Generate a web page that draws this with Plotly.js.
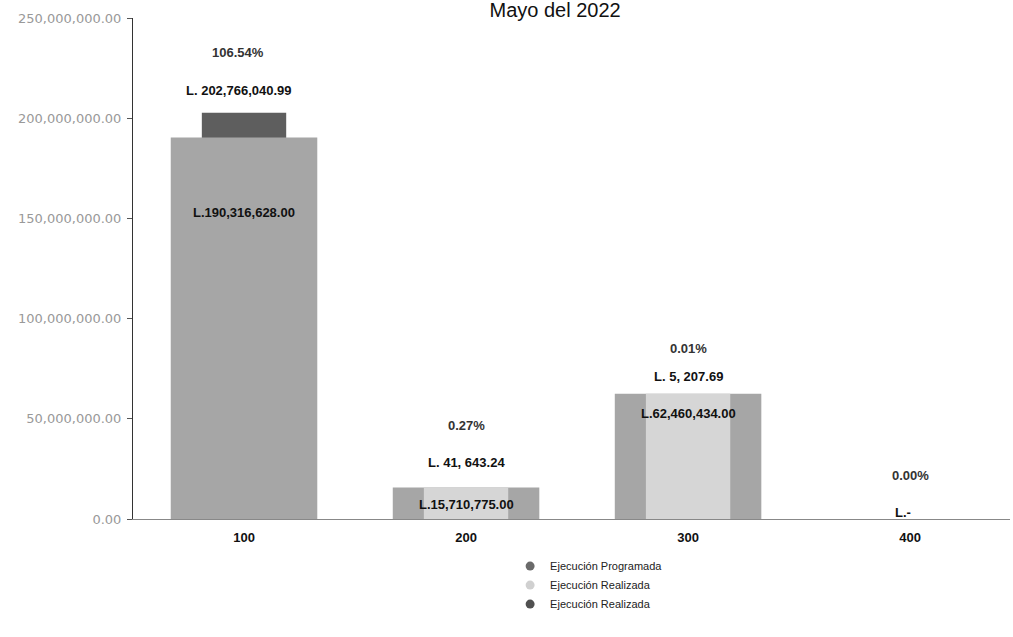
<!DOCTYPE html>
<html>
<head>
<meta charset="utf-8">
<script src="https://cdn.plot.ly/plotly-3.0.1.min.js"></script>
<style>html,body{margin:0;padding:0;background:#fff;}#chart{width:1013px;height:637px;}</style>
</head>
<body>
<div id="chart"></div>
<script>
// ---- data ----
const categories = ["100", "200", "300", "400"];
const programada = [190316628.00, 15710775.00, 62460434.00, 0];
const realizadaClara = [0, 15710775.00, 62460434.00, 0];
const realizadaOscura = [202766040.99, 0, 0, 0];
const labelsProgramada = ["L.190,316,628.00", "L.15,710,775.00", "L.62,460,434.00", ""];
const labelsRealizada = ["L. 202,766,040.99", "L. 41, 643.24", "L. 5, 207.69", "L.-"];
const labelsPorcentaje = ["106.54%", "0.27%", "0.01%", "0.00%"];
const legendNames = ["Ejecución Programada", "Ejecución Realizada", "Ejecución Realizada"];

// ---- styling / positions (label y positions in axis units) ----
const font = "Liberation Sans, Arial, sans-serif";
const pctY = [233e6, 46.9e6, 85.3e6, 21.5e6];
const realY = [214e6, 28.4e6, 70.9e6, 3e6];
const progY = [152.7e6, 7e6, 52.4e6, 0];
const pctDx = [-6, 0, 0, 0];
const realDx = [-5, 0, 0, -7];

const traces = [
  {type: "bar", x: categories, y: realizadaOscura, width: 0.38,
   marker: {color: "#5e5e5e"}, showlegend: false, hoverinfo: "y"},
  {type: "bar", x: categories, y: programada, width: 0.66,
   marker: {color: "#a6a6a6"}, showlegend: false, hoverinfo: "y"},
  {type: "bar", x: categories, y: realizadaClara, width: 0.38,
   marker: {color: "#d6d6d6"}, showlegend: false, hoverinfo: "y"},
  {type: "scatter", mode: "markers", x: [null], y: [null], name: legendNames[0],
   marker: {symbol: "circle", size: 9, color: "#6a6a6a"}},
  {type: "scatter", mode: "markers", x: [null], y: [null], name: legendNames[1],
   marker: {symbol: "circle", size: 9, color: "#d0d0d0"}},
  {type: "scatter", mode: "markers", x: [null], y: [null], name: legendNames[2],
   marker: {symbol: "circle", size: 9, color: "#505050"}}
];

const annotations = [];
categories.forEach((c, i) => {
  annotations.push({xref: "x", yref: "y", x: i, y: pctY[i], xshift: pctDx[i], text: "<b>" + labelsPorcentaje[i] + "</b>", showarrow: false,
    font: {family: font, size: 13, color: "#333"}});
  annotations.push({xref: "x", yref: "y", x: i, y: realY[i], xshift: realDx[i], text: "<b>" + labelsRealizada[i] + "</b>", showarrow: false,
    font: {family: font, size: 13, color: "#111"}});
  if (labelsProgramada[i]) {
    annotations.push({xref: "x", yref: "y", x: i, y: progY[i], text: "<b>" + labelsProgramada[i] + "</b>", showarrow: false,
      font: {family: font, size: 13, color: "#111"}});
  }
});

const layout = {
  width: 1013, height: 637,
  margin: {l: 133, r: 3, t: 18, b: 118},
  paper_bgcolor: "#fff", plot_bgcolor: "#fff",
  barmode: "overlay",
  title: {text: "Mayo del 2022", x: 0.548, xanchor: "center", y: 0.985, yanchor: "middle",
    font: {family: font, size: 20, color: "#111"}},
  xaxis: {
    type: "category", range: [-0.5, 3.45],
    showline: true, linecolor: "#888", linewidth: 1, showgrid: false, zeroline: false,
    ticks: "", tickfont: {family: font, size: 13, color: "#111", weight: "bold"},
    ticklabelstandoff: 6
  },
  yaxis: {
    range: [0, 250000000], tickvals: [0, 50e6, 100e6, 150e6, 200e6, 250e6],
    tickformat: ",.2f", showline: true, linecolor: "#333", linewidth: 1,
    showgrid: false, zeroline: false, ticks: "outside", ticklen: 5, tickcolor: "#555",
    tickfont: {family: "DejaVu Sans, sans-serif", size: 13, color: "#999"}, ticklabelstandoff: 3
  },
  legend: {orientation: "v", x: 0.43, xanchor: "left", y: -0.065, yanchor: "top",
    font: {family: font, size: 11, color: "#222"}, tracegroupgap: 0, itemwidth: 30},
  annotations: annotations,
  showlegend: true
};

Plotly.newPlot("chart", traces, layout, {displayModeBar: false, staticPlot: true});
</script>
</body>
</html>
